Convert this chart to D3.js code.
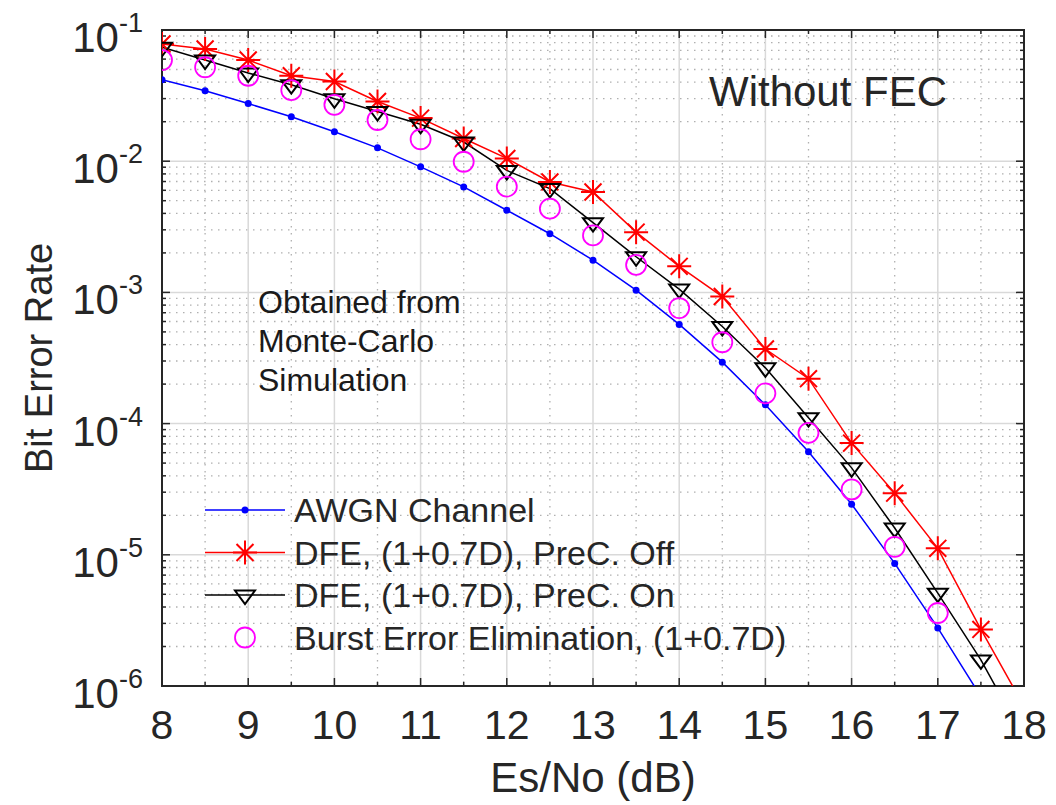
<!DOCTYPE html>
<html>
<head>
<meta charset="utf-8">
<script src="https://cdnjs.cloudflare.com/ajax/libs/d3/7.8.5/d3.min.js"></script>
<style>
  body { margin: 0; background: #fff; }
  text { font-family: "Liberation Sans", Arial, sans-serif; fill: #262626; }
</style>
</head>
<body>
<svg width="1056" height="805"></svg>
<script>

//// BER CURVES ////

// Es/No values (dB)
var snr = [8, 8.5, 9, 9.5, 10, 10.5, 11, 11.5, 12, 12.5, 13, 13.5, 14, 14.5, 15, 15.5, 16, 16.5, 17, 17.5, 18];

// AWGN channel
var berAwgn = [0.0418, 0.0344, 0.0275, 0.0218, 0.01675, 0.01264, 0.00906, 0.00637, 0.00423, 0.0028,
  0.00176, 1.04e-3, 5.7e-4, 2.94e-4, 1.39e-4, 6.1e-5, 2.43e-5, 8.6e-6, 2.77e-6, 8.3e-7];

// DFE, precoder off
var berDfeOff = [0.0782, 0.0716, 0.059, 0.0448, 0.0405, 0.0285, 0.0213, 0.0149, 0.0105, 0.00695,
  0.00583, 0.00288, 1.58e-3, 9.3e-4, 3.7e-4, 2.2e-4, 7.1e-5, 2.95e-5, 1.12e-5, 2.7e-6, 7e-7];

// DFE, precoder on
var berDfeOn = [0.0738, 0.059, 0.047, 0.0383, 0.0299, 0.0239, 0.0191, 0.014, 0.0085, 0.00618,
  0.0034, 1.87e-3, 1.06e-3, 5.5e-4, 2.66e-4, 1.11e-4, 4.6e-5, 1.6e-5, 5.1e-6, 1.58e-6, 4e-7];

// Burst error elimination (markers only)
var berBurst = [0.059, 0.052, 0.0448, 0.0348, 0.0269, 0.0206, 0.0147, 0.0099, 0.0064, 0.00435,
  0.00272, 1.62e-3, 7.6e-4, 4.17e-4, 1.7e-4, 8.5e-5, 3.15e-5, 1.15e-5, 3.6e-6];

var xTicks = [8, 9, 10, 11, 12, 13, 14, 15, 16, 17, 18];
var yExps = [-1, -2, -3, -4, -5, -6];
var legendLabels = ["AWGN Channel", "DFE, (1+0.7D), PreC. Off", "DFE, (1+0.7D), PreC. On", "Burst Error Elimination, (1+0.7D)"];

// Initialize variables
var svg = d3.select("svg");
var pLeft = 162, pRight = 1024, pTop = 30, pBottom = 686;
var axisColor = "#262626";

var x = d3.scaleLinear().domain([8, 18]).range([pLeft, pRight]);
var y = d3.scaleLog().domain([1e-6, 1e-1]).range([pBottom, pTop]);

// clip for the curves
svg.append("clipPath").attr("id", "clip")
  .append("rect").attr("x", pLeft).attr("y", pTop).attr("width", pRight - pLeft).attr("height", pBottom - pTop);

// Minor grid (dotted)
var minorX = d3.range(8.5, 18, 1);
var minorY = [];
for (var e = -6; e < -1; e++) {
  for (var k = 2; k <= 9; k++) minorY.push(k * Math.pow(10, e));
}
var grid = svg.append("g");
grid.selectAll(".mx").data(minorX).enter().append("line")
  .attr("x1", function(d) { return x(d); }).attr("x2", function(d) { return x(d); })
  .attr("y1", pTop).attr("y2", pBottom)
  .attr("stroke", "#b0b0b0").attr("stroke-width", 1.3).attr("stroke-dasharray", "1.5,5.5");
grid.selectAll(".my").data(minorY).enter().append("line")
  .attr("x1", pLeft).attr("x2", pRight)
  .attr("y1", function(d) { return y(d); }).attr("y2", function(d) { return y(d); })
  .attr("stroke", "#b0b0b0").attr("stroke-width", 1.3).attr("stroke-dasharray", "1.5,5.5");

// Major grid (solid, light)
grid.selectAll(".gx").data(xTicks).enter().append("line")
  .attr("x1", function(d) { return x(d); }).attr("x2", function(d) { return x(d); })
  .attr("y1", pTop).attr("y2", pBottom)
  .attr("stroke", "#d9d9d9").attr("stroke-width", 1.5);
grid.selectAll(".gy").data(yExps).enter().append("line")
  .attr("x1", pLeft).attr("x2", pRight)
  .attr("y1", function(d) { return y(Math.pow(10, d)); }).attr("y2", function(d) { return y(Math.pow(10, d)); })
  .attr("stroke", "#d9d9d9").attr("stroke-width", 1.5);

// Ticks on all four sides (pointing inwards)
var ticks = svg.append("g").attr("stroke", axisColor).attr("stroke-width", 1.5);
xTicks.forEach(function(d) {
  ticks.append("line").attr("x1", x(d)).attr("x2", x(d)).attr("y1", pBottom).attr("y2", pBottom - 8);
  ticks.append("line").attr("x1", x(d)).attr("x2", x(d)).attr("y1", pTop).attr("y2", pTop + 8);
});
minorX.forEach(function(d) {
  ticks.append("line").attr("x1", x(d)).attr("x2", x(d)).attr("y1", pBottom).attr("y2", pBottom - 4);
  ticks.append("line").attr("x1", x(d)).attr("x2", x(d)).attr("y1", pTop).attr("y2", pTop + 4);
});
yExps.forEach(function(d) {
  var yy = y(Math.pow(10, d));
  ticks.append("line").attr("x1", pLeft).attr("x2", pLeft + 8).attr("y1", yy).attr("y2", yy);
  ticks.append("line").attr("x1", pRight).attr("x2", pRight - 8).attr("y1", yy).attr("y2", yy);
});
minorY.forEach(function(d) {
  ticks.append("line").attr("x1", pLeft).attr("x2", pLeft + 4).attr("y1", y(d)).attr("y2", y(d));
  ticks.append("line").attr("x1", pRight).attr("x2", pRight - 4).attr("y1", y(d)).attr("y2", y(d));
});

// Box
svg.append("rect").attr("x", pLeft).attr("y", pTop).attr("width", pRight - pLeft).attr("height", pBottom - pTop)
  .attr("fill", "none").attr("stroke", axisColor).attr("stroke-width", 2);

// Tick labels
svg.append("g").selectAll("text").data(xTicks).enter().append("text")
  .attr("x", function(d) { return x(d); }).attr("y", 739)
  .attr("text-anchor", "middle").attr("font-size", 41)
  .text(function(d) { return d; });

var yl = svg.append("g").selectAll("text").data(yExps).enter().append("text")
  .attr("x", 143).attr("y", function(d) { return y(Math.pow(10, d)) + 22; })
  .attr("text-anchor", "end").attr("font-size", 42);
yl.append("tspan").text("10");
yl.append("tspan").attr("font-size", 27).attr("dy", -20).text(function(d) { return String(d); });

// Axis titles
svg.append("text").attr("x", (pLeft + pRight) / 2).attr("y", 792)
  .attr("text-anchor", "middle").attr("font-size", 42).text("Es/No (dB)");
svg.append("text").attr("transform", "translate(52," + ((pTop + pBottom) / 2) + ") rotate(-90)")
  .attr("text-anchor", "middle").attr("font-size", 38).text("Bit Error Rate");

// Annotations
svg.append("text").attr("x", 709).attr("y", 106).attr("font-size", 42).attr("fill", "#1a1a1a").text("Without FEC");
svg.append("text").selectAll("tspan").data(["Obtained from", "Monte-Carlo", "Simulation"]).enter().append("tspan")
  .attr("x", 258).attr("y", function(d, i) { return 313 + i * 39; })
  .attr("font-size", 32).attr("fill", "#1a1a1a")
  .text(function(d) { return d; });

// Curves
var plot = svg.append("g").attr("clip-path", "url(#clip)");

function makeLine(vals) {
  return d3.line()
    .x(function(d, i) { return x(snr[i]); })
    .y(function(d) { return y(d); })(vals);
}

plot.append("path").attr("d", makeLine(berAwgn)).attr("fill", "none").attr("stroke", "#0000ff").attr("stroke-width", 1.5);
plot.append("path").attr("d", makeLine(berDfeOff)).attr("fill", "none").attr("stroke", "#ff0000").attr("stroke-width", 1.5);
plot.append("path").attr("d", makeLine(berDfeOn)).attr("fill", "none").attr("stroke", "#000000").attr("stroke-width", 1.5);

// marker shapes
function star(g, cx, cy, r) {
  var p = "";
  for (var a = 0; a < 4; a++) {
    var ang = a * Math.PI / 4;
    p += "M" + (cx - r * Math.cos(ang)) + "," + (cy - r * Math.sin(ang)) + "L" + (cx + r * Math.cos(ang)) + "," + (cy + r * Math.sin(ang));
  }
  g.append("path").attr("d", p).attr("stroke", "#ff0000").attr("stroke-width", 2).attr("fill", "none");
}
function tri(g, cx, cy, s) {
  var h = s * 0.9;
  g.append("path")
    .attr("d", "M" + (cx - s) + "," + (cy - h * 0.5) + "L" + (cx + s) + "," + (cy - h * 0.5) + "L" + cx + "," + (cy + h) + "Z")
    .attr("stroke", "#000").attr("stroke-width", 2).attr("fill", "none");
}

plot.selectAll(".dot").data(berAwgn).enter().append("circle")
  .attr("cx", function(d, i) { return x(snr[i]); }).attr("cy", function(d) { return y(d); })
  .attr("r", 3.5).attr("fill", "#0000ff");
berDfeOff.forEach(function(d, i) { star(plot, x(snr[i]), y(d), 12); });
berDfeOn.forEach(function(d, i) { tri(plot, x(snr[i]), y(d), 10); });
plot.selectAll(".ring").data(berBurst).enter().append("circle")
  .attr("cx", function(d, i) { return x(snr[i]); }).attr("cy", function(d) { return y(d); })
  .attr("r", 10).attr("fill", "none").attr("stroke", "#ff00ff").attr("stroke-width", 1.8);

// Legend (no box)
var legColors = ["#0000ff", "#ff0000", "#000000", "#ff00ff"];
var leg = svg.append("g");
legendLabels.forEach(function(lab, i) {
  var ly = 510 + i * 42.5;
  if (i < 3) {
    leg.append("line").attr("x1", 205).attr("x2", 285).attr("y1", ly).attr("y2", ly)
      .attr("stroke", legColors[i]).attr("stroke-width", 1.5);
  }
  if (i == 0) leg.append("circle").attr("cx", 245).attr("cy", ly).attr("r", 3.5).attr("fill", legColors[0]);
  if (i == 1) star(leg, 245, ly, 12);
  if (i == 2) tri(leg, 245, ly, 10);
  if (i == 3) leg.append("circle").attr("cx", 245).attr("cy", ly).attr("r", 10).attr("fill", "none")
    .attr("stroke", "#ff00ff").attr("stroke-width", 1.8);
  leg.append("text").attr("x", 294).attr("y", ly + 12).attr("font-size", 34).attr("fill", "#1a1a1a").text(lab);
});
</script>
</body>
</html>
